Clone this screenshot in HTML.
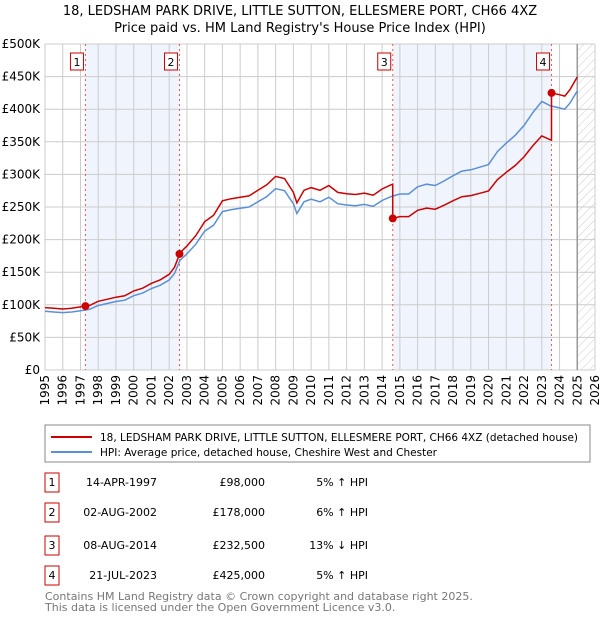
<!DOCTYPE html>
<html><head><meta charset="utf-8"><style>
body{margin:0;background:#fff;font-family:"Liberation Sans","DejaVu Sans",sans-serif;}
svg text{font-family:"DejaVu Sans","Liberation Sans",sans-serif;}
</style></head><body>
<svg id="c" width="600" height="620" xmlns="http://www.w3.org/2000/svg">
<defs><pattern id="hatch" width="6" height="6" patternUnits="userSpaceOnUse" patternTransform="rotate(45)"><line x1="0" y1="0" x2="0" y2="6" stroke="#ccc" stroke-width="1"/></pattern></defs>
<text x="300" y="15" text-anchor="middle" font-size="13">18, LEDSHAM PARK DRIVE, LITTLE SUTTON, ELLESMERE PORT, CH66 4XZ</text>
<text x="300" y="32" text-anchor="middle" font-size="13">Price paid vs. HM Land Registry's House Price Index (HPI)</text>
<g id="plot"></g>
<rect x="45" y="425" width="545" height="37" fill="#fff" stroke="#888"/>
<line x1="51" y1="437" x2="92" y2="437" stroke="#cc0000" stroke-width="2"/>
<text x="100" y="441" font-size="11" textLength="478" lengthAdjust="spacingAndGlyphs">18, LEDSHAM PARK DRIVE, LITTLE SUTTON, ELLESMERE PORT, CH66 4XZ (detached house)</text>
<line x1="51" y1="452" x2="92" y2="452" stroke="#5b8fd6" stroke-width="2"/>
<text x="100" y="456" font-size="11" textLength="337" lengthAdjust="spacingAndGlyphs">HPI: Average price, detached house, Cheshire West and Chester</text>
<g id="table" font-size="11"></g>
<text x="45" y="600" font-size="11" fill="#777">Contains HM Land Registry data © Crown copyright and database right 2025.</text>
<text x="45" y="611" font-size="11" fill="#777">This data is licensed under the Open Government Licence v3.0.</text>
</svg>
<script>
const hpiYears=[1995,1995.5,1996,1996.5,1997,1997.5,1998,1998.5,1999,1999.5,
2000,2000.5,2001,2001.5,2002,2002.3,2002.6,2003,2003.5,2004,
2004.5,2005,2005.5,2006,2006.5,2007,2007.5,2008,2008.5,2009,
2009.2,2009.6,2010,2010.5,2011,2011.5,2012,2012.5,2013,2013.5,
2014,2014.5,2015,2015.5,2016,2016.5,2017,2017.5,2018,2018.5,
2019,2019.5,2020,2020.5,2021,2021.5,2022,2022.5,2023,2023.5,
2024,2024.3,2024.6,2025];
const hpiValues=[90,89,88,89,91,93,99,102,105,107,
114,118,125,130,138,148,168,178,193,213,
222,243,246,248,250,258,266,278,275,255,
240,258,262,258,265,255,253,252,254,251,
260,266,270,270,281,285,283,290,298,305,
307,311,315,335,348,360,375,395,412,405,
402,400,410,428];
const saleDates=[1997.28,2002.58,2014.6,2023.55];
const salePrices=[98000,178000,232500,425000];
const saleLabels=["1","2","3","4"];
const saleDateText=["14-APR-1997","02-AUG-2002","08-AUG-2014","21-JUL-2023"];
const salePriceText=["£98,000","£178,000","£232,500","£425,000"];
const saleHpiText=["5% ↑ HPI","6% ↑ HPI","13% ↓ HPI","5% ↑ HPI"];
const yTicks=[0,50,100,150,200,250,300,350,400,450,500];
const xTicks=[1995,1996,1997,1998,1999,2000,2001,2002,2003,2004,2005,2006,2007,2008,2009,2010,2011,2012,2013,2014,2015,2016,2017,2018,2019,2020,2021,2022,2023,2024,2025,2026];

const X0=45,X1=595,Y0=370,Y1=44;
const xs=y=>X0+(y-1995)/31*(X1-X0);
const ys=v=>Y0-v/500*(Y0-Y1);
const NS="http://www.w3.org/2000/svg";
const plot=document.getElementById('plot');
function mk(tag,attrs,parent){const e=document.createElementNS(NS,tag);for(const k in attrs)e.setAttribute(k,attrs[k]);(parent||plot).appendChild(e);return e;}
function hpiAt(t){for(let i=0;i<hpiYears.length-1;i++){if(t>=hpiYears[i]&&t<=hpiYears[i+1]){const f=(t-hpiYears[i])/(hpiYears[i+1]-hpiYears[i]);return hpiValues[i]+f*(hpiValues[i+1]-hpiValues[i]);}}return hpiValues[hpiValues.length-1];}

for(const [a,b] of [[0,1],[2,3]]){const r=mk('rect',{x:xs(saleDates[a]),y:Y1,width:xs(saleDates[b])-xs(saleDates[a]),height:Y0-Y1,fill:'#f0f4fc'});

}
const h=mk('rect',{x:xs(2025),y:Y1,width:X1-xs(2025),height:Y0-Y1,fill:'url(#hatch)'});


for(const t of yTicks){const l=mk('line',{x1:X0,x2:X1,y1:ys(t),y2:ys(t),stroke:'#ccc'});


const tx=mk('text',{x:X0-5,y:ys(t)+4,'text-anchor':'end','font-size':'12'});tx.textContent=t===0?'£0':'£'+t+'K';

}
for(const t of xTicks){const l=mk('line',{x1:xs(t),x2:xs(t),y1:Y1,y2:Y0,stroke:'#ccc'});


const tx=mk('text',{x:0,y:0,'text-anchor':'end','font-size':'12',transform:`translate(${xs(t)+4},375) rotate(-90)`});tx.textContent=t;

}
const vl=mk('line',{x1:xs(2025),x2:xs(2025),y1:Y1,y2:Y0,stroke:'#999','stroke-width':1.5});


saleDates.forEach((d,i)=>{const l=mk('line',{x1:xs(d),x2:xs(d),y1:Y1,y2:Y0,stroke:'#e55','stroke-dasharray':'2,3','stroke-width':1});


const bx=mk('rect',{x:xs(d)-15,y:53,width:13,height:17,fill:'#fff',stroke:'#cc0000'});


const tx=mk('text',{x:xs(d)-8.5,y:66,'text-anchor':'middle','font-size':'11'});tx.textContent=saleLabels[i];

});
const hp=hpiYears.map((y,i)=>xs(y).toFixed(1)+','+ys(hpiValues[i]).toFixed(1)).join(' ');
const hl=mk('polyline',{points:hp,fill:'none',stroke:'#5b8fd6','stroke-width':1.5});


let pts=[];
const seg=t=>{let k=0;for(let i=0;i<saleDates.length;i++)if(t>=saleDates[i])k=i;return k;};
const scale=i=>salePrices[i]/1000/hpiAt(saleDates[i]);
const allT=[...hpiYears];saleDates.forEach(d=>{allT.push(d-0.001);allT.push(d);});allT.sort((a,b)=>a-b);
for(const t of allT){const k=seg(t);pts.push(xs(t).toFixed(1)+','+ys(hpiAt(t)*scale(k)).toFixed(1));}
const pl=mk('polyline',{points:pts.join(' '),fill:'none',stroke:'#cc0000','stroke-width':1.5});


saleDates.forEach((d,i)=>{const c=mk('circle',{cx:xs(d),cy:ys(salePrices[i]/1000),r:4,fill:'#cc0000'});

});
const tb=document.getElementById('table');
const rowsY=[482,512,545,575];
saleDates.forEach((d,i)=>{const y=rowsY[i];
const b=mk('rect',{x:45,y:y-9,width:14,height:19,fill:'#fff',stroke:'#cc0000'},tb);


const cells=[[52,saleLabels[i],'middle'],[157,saleDateText[i],'end'],[265,salePriceText[i],'end'],[368,saleHpiText[i],'end']];
cells.forEach(c=>{const t=mk('text',{x:c[0],y:y+4,'text-anchor':c[2]},tb);t.textContent=c[1];

});});
</script>
</body></html>
